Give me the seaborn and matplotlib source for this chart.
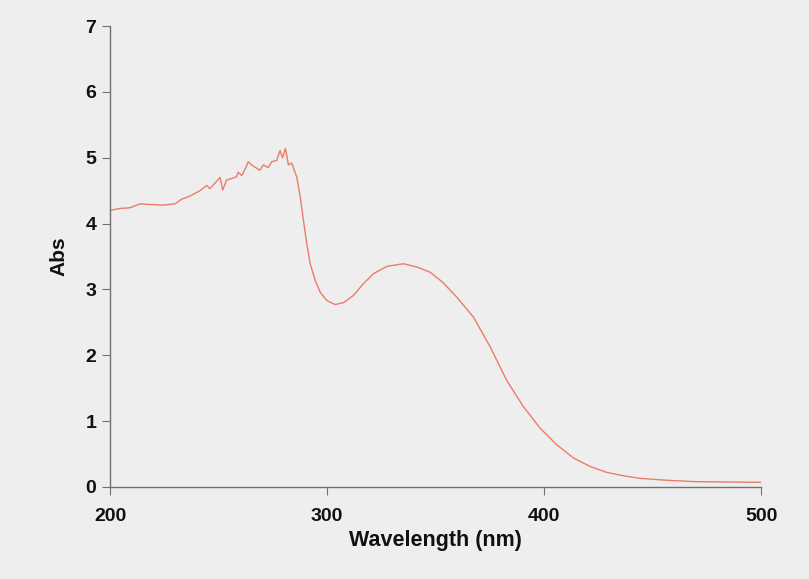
import matplotlib
matplotlib.use("Agg")
import matplotlib.pyplot as plt
import seaborn as sns
import pandas as pd

wavelength = [200, 204.6, 209.2, 213.8, 218.4, 224.4, 230, 233, 236.9, 241.5, 244.6, 246,
              250.7, 251.9, 253.7, 258.3, 259, 260.7, 262, 263.7, 265.2, 269, 270.6, 272.9,
              274.5, 276.8, 278.3, 279.5, 280.8, 282.2, 283.7, 286, 287.6, 289.1, 290.6,
              292.2, 294.5, 296.8, 299.9, 303.7, 307.6, 312.2, 316.8, 321.4, 327.6, 335.2,
              341.4, 347.5, 353.2, 359.8, 367.4, 375.1, 382.7, 390.4, 398.2, 405.8, 413.5,
              421.2, 428.9, 436.5, 444.2, 457, 470, 485, 500]
absorbance = [4.20, 4.23, 4.24, 4.30, 4.29, 4.28, 4.30, 4.37, 4.42, 4.50, 4.58, 4.53,
              4.70, 4.51, 4.66, 4.71, 4.78, 4.73, 4.81, 4.94, 4.89, 4.81, 4.89, 4.85,
              4.94, 4.96, 5.11, 5.00, 5.14, 4.89, 4.92, 4.71, 4.41, 4.05, 3.70,
              3.39, 3.14, 2.96, 2.83, 2.77, 2.80, 2.91, 3.09, 3.24, 3.35, 3.39,
              3.34, 3.26, 3.11, 2.88, 2.58, 2.13, 1.62, 1.22, 0.89, 0.64, 0.44,
              0.31, 0.22, 0.17, 0.13, 0.10, 0.08, 0.075, 0.07]
x_ticks = [200, 300, 400, 500]
y_ticks = [0, 1, 2, 3, 4, 5, 6, 7]

df = pd.DataFrame({"Wavelength (nm)": wavelength, "Abs": absorbance})

sns.set_style("ticks")
plt.rcParams['font.family'] = ['Liberation Sans', 'DejaVu Sans']

bg = "#eeeeee"
fig = plt.figure(figsize=(8.09, 5.79), dpi=100, facecolor=bg)
ax = fig.add_axes([0.136, 0.159, 0.805, 0.796])
ax.set_facecolor(bg)

sns.lineplot(data=df, x="Wavelength (nm)", y="Abs", ax=ax, color="#ec7c68",
             linewidth=1.0, estimator=None, sort=False)

ax.set_xlim(200, 500)
ax.set_ylim(0, 7)
ax.set_xticks(x_ticks)
ax.set_yticks(y_ticks)

for s in ["top", "right"]:
    ax.spines[s].set_visible(False)
for s in ["left", "bottom"]:
    ax.spines[s].set_color("#707070")
    ax.spines[s].set_linewidth(1.0)

ax.tick_params(axis="both", direction="out", length=6, width=0.8, color="#707070",
               labelsize=14)
ax.tick_params(axis="x", pad=9)
ax.tick_params(axis="y", pad=4)
for lab in ax.get_xticklabels() + ax.get_yticklabels():
    lab.set_fontweight("bold")
    lab.set_color("#111111")

ax.set_xlabel("Wavelength (nm)", fontsize=15.5, fontweight="bold", color="#111111", labelpad=4)
ax.set_ylabel("Abs", fontsize=15, fontweight="bold", color="#111111", labelpad=12)

fig.savefig("out.png", dpi=100, facecolor=bg)
